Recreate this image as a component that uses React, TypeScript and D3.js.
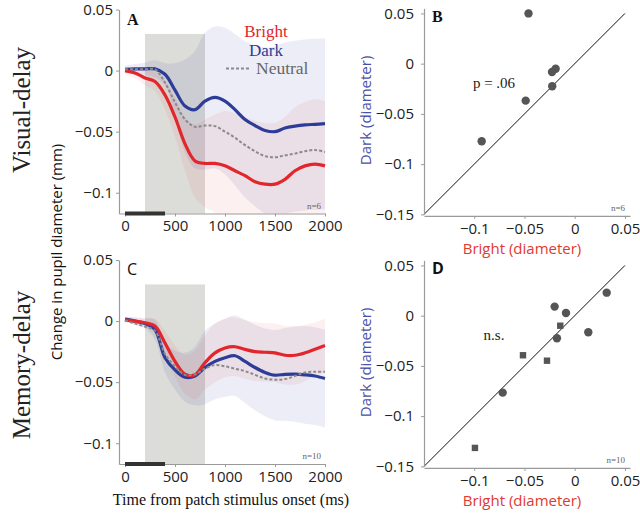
import React, { useEffect, useRef } from "react";
import * as d3 from "d3";

// ---------- data ----------
const timeMs = [0, 100, 200, 300, 400, 500, 600, 700, 800, 900, 1000, 1100, 1200, 1300, 1400, 1500, 1600, 1700, 1800, 1900, 2000];

// Panel A (visual-delay)
const brightA = [0.0, -0.002, -0.006, -0.009, -0.02, -0.038, -0.06, -0.074, -0.076, -0.076, -0.078, -0.082, -0.086, -0.091, -0.093, -0.093, -0.089, -0.082, -0.078, -0.0765, -0.078];
const darkA = [0.001, 0.0014, 0.0014, 0.0014, -0.003, -0.016, -0.029, -0.032, -0.025, -0.022, -0.025, -0.032, -0.04, -0.045, -0.049, -0.05, -0.047, -0.0455, -0.0445, -0.044, -0.0435];
const neutralA = [0.001, 0.001, 0.001, 0.001, -0.01, -0.026, -0.04, -0.046, -0.045, -0.0455, -0.05, -0.055, -0.061, -0.066, -0.07, -0.071, -0.0694, -0.068, -0.066, -0.065, -0.0667];
const brightBandA = [0.003, 0.004, 0.006, 0.008, 0.012, 0.016, 0.022, 0.03, 0.036, 0.04, 0.045, 0.047, 0.048, 0.05, 0.05, 0.05, 0.051, 0.052, 0.052, 0.053, 0.053];
const darkBandA = [0.003, 0.004, 0.005, 0.007, 0.009, 0.022, 0.038, 0.048, 0.056, 0.058, 0.06, 0.062, 0.064, 0.066, 0.068, 0.07, 0.07, 0.07, 0.07, 0.07, 0.07];

// Panel C (memory-delay)
const brightC = [0.001, 0.0, -0.0014, -0.004, -0.018, -0.033, -0.0435, -0.044, -0.034, -0.026, -0.022, -0.021, -0.0232, -0.025, -0.0255, -0.026, -0.028, -0.028, -0.026, -0.023, -0.02];
const darkC = [0.0016, 0.0, -0.002, -0.007, -0.03, -0.04, -0.046, -0.045, -0.038, -0.033, -0.03, -0.0284, -0.033, -0.038, -0.042, -0.0443, -0.0436, -0.0434, -0.044, -0.045, -0.047];
const neutralC = [0.0005, -0.002, -0.0045, -0.008, -0.027, -0.037, -0.044, -0.0435, -0.039, -0.036, -0.037, -0.039, -0.041, -0.044, -0.047, -0.048, -0.0475, -0.045, -0.042, -0.0415, -0.0415];
const brightBandC = [0.002, 0.003, 0.004, 0.006, 0.01, 0.013, 0.016, 0.02, 0.022, 0.024, 0.024, 0.024, 0.024, 0.024, 0.024, 0.024, 0.024, 0.024, 0.023, 0.022, 0.022];
const darkBandC = [0.002, 0.003, 0.004, 0.008, 0.012, 0.016, 0.02, 0.024, 0.03, 0.031, 0.032, 0.033, 0.034, 0.035, 0.036, 0.037, 0.038, 0.039, 0.04, 0.04, 0.04];

// Scatter B: [bright, dark]
const scatterBCircles: [number, number][] = [
  [-0.046, 0.05], [-0.019, -0.005], [-0.0226, -0.0083], [-0.0224, -0.0225], [-0.0488, -0.0368], [-0.0926, -0.0772],
];
// Scatter D
const scatterDCircles: [number, number][] = [
  [-0.02, 0.009], [-0.0087, 0.0027], [0.0318, 0.0229], [0.0135, -0.0165], [-0.0177, -0.0225], [-0.0717, -0.0766],
];
const scatterDSquares: [number, number][] = [
  [-0.0144, -0.01], [-0.0515, -0.0394], [-0.0276, -0.0448], [-0.0993, -0.1316],
];

const lineYTicks = [-0.1, -0.05, 0, 0.05];
const lineXTicks = [0, 500, 1000, 1500, 2000];
const scatYTicks = [-0.15, -0.1, -0.05, 0, 0.05];
const scatXTicks = [-0.1, -0.05, 0, 0.05];

const RED = "#e2262b";
const BLUE = "#2d3c98";
const GRAY = "#8a8a8a";
const LABEL_RED = "#e0392f";
const LABEL_BLUE = "#4a4fa8";
const SERIF = "'Liberation Serif', serif";
const SANS = "'Open Sans', 'DejaVu Sans', sans-serif";

const fmt = (d: number) => {
  if (d === 0) return "0";
  const s = d3.format("~g")(Math.abs(d));
  return (d < 0 ? "\u2212" : "") + s;
};

function styleAxis(g: any) {
  g.select(".domain").attr("stroke", "#9a9a9a").attr("stroke-width", 1.2);
  g.selectAll(".tick line").attr("stroke", "#9a9a9a");
  g.selectAll(".tick text").attr("fill", "#222").style("font-family", SANS).style("font-size", "15px");
}

function drawLinePanel(svg: any, top: number, id: string, bright: number[], dark: number[], neutral: number[], bBand: number[], dBand: number[], letter: string, letterFont: string, nText: string, legend: boolean) {
  const x = d3.scaleLinear().domain([-60, 2000]).range([119, 325]);
  const y = d3.scaleLinear().domain([-0.117, 0.05]).range([top + 204, top]);
  const g = svg.append("g");
  const clipId = "clip" + id;
  g.append("clipPath").attr("id", clipId).append("rect")
    .attr("x", x(-60)).attr("y", y(0.05)).attr("width", x(2000) - x(-60) + 2).attr("height", y(-0.117) - y(0.05));

  // stimulus window
  g.append("rect").attr("x", x(200)).attr("y", y(0.03)).attr("width", x(800) - x(200)).attr("height", y(-0.117) - y(0.03))
    .attr("fill", "#dcdcd9");

  const area = (vals: number[], hw: number[]) =>
    d3.area<number>().x((_, i) => x(timeMs[i])).y0((v, i) => y(v - hw[i])).y1((v, i) => y(v + hw[i])).curve(d3.curveCatmullRom)(vals);
  const line = (vals: number[]) => d3.line<number>().x((_, i) => x(timeMs[i])).y((v) => y(v)).curve(d3.curveCatmullRom)(vals);

  const bandG = g.append("g").attr("clip-path", `url(#${clipId})`);
  bandG.append("path").attr("d", area(dark, dBand)).attr("fill", BLUE).attr("fill-opacity", 0.09);
  bandG.append("path").attr("d", area(bright, bBand)).attr("fill", RED).attr("fill-opacity", 0.07);

  g.append("path").attr("d", line(dark)).attr("fill", "none").attr("stroke", BLUE).attr("stroke-width", 3.2);
  g.append("path").attr("d", line(bright)).attr("fill", "none").attr("stroke", RED).attr("stroke-width", 3.2);
  g.append("path").attr("d", line(neutral)).attr("fill", "none").attr("stroke", GRAY).attr("stroke-width", 2).attr("stroke-dasharray", "3,2");

  // axes
  const ya = g.append("g").attr("transform", `translate(${x(-60)},0)`)
    .call(d3.axisLeft(y).tickValues(lineYTicks).tickFormat(fmt as any).tickSize(3).tickPadding(3).tickSizeOuter(0));
  styleAxis(ya);
  const xa = g.append("g").attr("transform", `translate(0,${y(-0.117)})`)
    .call(d3.axisBottom(x).tickValues(lineXTicks).tickFormat(d3.format("d") as any).tickSize(3).tickPadding(4).tickSizeOuter(0));
  styleAxis(xa);

  // stimulus bar
  g.append("rect").attr("x", x(0)).attr("y", y(-0.117) - 2).attr("width", x(400) - x(0)).attr("height", 4).attr("fill", "#333");

  g.append("text").attr("x", 127).attr("y", top + 15).text(letter)
    .style("font-family", letterFont).style("font-weight", letter === "A" ? 700 : 400).style("font-size", "16px").attr("fill", "#111");
  g.append("text").attr("x", 321).attr("y", y(-0.117) - 5).attr("text-anchor", "end").text(nText)
    .style("font-family", SERIF).style("font-size", "9px").attr("fill", "#666");

  if (legend) {
    g.append("text").attr("x", 266).attr("y", top + 27.5).attr("text-anchor", "middle").text("Bright")
      .style("font-family", SERIF).style("font-size", "17px").attr("fill", RED);
    g.append("text").attr("x", 266).attr("y", top + 46).attr("text-anchor", "middle").text("Dark")
      .style("font-family", SERIF).style("font-size", "17px").attr("fill", BLUE);
    g.append("line").attr("x1", 226).attr("x2", 250).attr("y1", top + 59).attr("y2", top + 59)
      .attr("stroke", GRAY).attr("stroke-width", 2).attr("stroke-dasharray", "3,2");
    g.append("text").attr("x", 256).attr("y", top + 64.5).text("Neutral")
      .style("font-family", SERIF).style("font-size", "17.5px").attr("fill", "#666");
  }
}

function drawScatter(svg: any, top: number, circles: [number, number][], squares: [number, number][], letter: string, letterFont: string, stat: string, nText: string) {
  const x = d3.scaleLinear().domain([-0.15, 0.055]).range([424, 630]);
  const y = d3.scaleLinear().domain([-0.15, 0.055]).range([top + 206, top]);
  const g = svg.append("g");
  g.append("line").attr("x1", x(-0.15)).attr("y1", y(-0.15)).attr("x2", x(0.05)).attr("y2", y(0.05))
    .attr("stroke", "#111").attr("stroke-width", 1);

  const ya = g.append("g").attr("transform", `translate(${x(-0.15)},0)`)
    .call(d3.axisLeft(y).tickValues(scatYTicks).tickFormat(fmt as any).tickSize(3).tickPadding(7).tickSizeOuter(0));
  styleAxis(ya);
  const xa = g.append("g").attr("transform", `translate(0,${y(-0.15) + 1.5})`)
    .call(d3.axisBottom(x).tickValues(scatXTicks).tickFormat(fmt as any).tickSize(3).tickPadding(4).tickSizeOuter(0));
  styleAxis(xa);

  g.selectAll("circle.pt").data(circles).enter().append("circle")
    .attr("cx", (d: any) => x(d[0])).attr("cy", (d: any) => y(d[1])).attr("r", 4.2).attr("fill", "#555");
  g.selectAll("rect.pt").data(squares).enter().append("rect")
    .attr("x", (d: any) => x(d[0]) - 3.2).attr("y", (d: any) => y(d[1]) - 3.2).attr("width", 6.4).attr("height", 6.4).attr("fill", "#555");

  g.append("text").attr("x", 432).attr("y", top + 14).text(letter)
    .style("font-family", letterFont).style("font-weight", 700).style("font-size", "16px").attr("fill", "#111");
  g.append("text").attr("x", 494).attr("y", top + 80).attr("text-anchor", "middle").text(stat)
    .style("font-family", SERIF).style("font-size", "15px").attr("fill", "#222");
  g.append("text").attr("x", 625).attr("y", y(-0.15) - 3).attr("text-anchor", "end").text(nText)
    .style("font-family", SERIF).style("font-size", "9px").attr("fill", "#666");

  g.append("text").attr("x", 522).attr("y", top + 246).attr("text-anchor", "middle").text("Bright (diameter)")
    .style("font-family", SANS).style("font-size", "15px").attr("fill", LABEL_RED);
  g.append("text").attr("transform", `translate(371,${top + 102}) rotate(-90)`).attr("text-anchor", "middle").text("Dark (diameter)")
    .style("font-family", SANS).style("font-size", "15px").attr("fill", LABEL_BLUE);
}

export default function App() {
  const ref = useRef<SVGSVGElement>(null);
  useEffect(() => {
    const svg = d3.select(ref.current);
    svg.selectAll("*").remove();
    svg.append("rect").attr("width", 640).attr("height", 514).attr("fill", "#fff");

    drawLinePanel(svg, 9.5, "A", brightA, darkA, neutralA, brightBandA, darkBandA, "A", SERIF, "n=6", true);
    drawLinePanel(svg, 260, "C", brightC, darkC, neutralC, brightBandC, darkBandC, "C", SANS, "n=10", false);
    drawScatter(svg, 8.4, scatterBCircles, [], "B", SERIF, "p = .06", "n=6");
    drawScatter(svg, 260.4, scatterDCircles, scatterDSquares, "D", SANS, "n.s.", "n=10");

    svg.append("text").attr("x", 231).attr("y", 505).attr("text-anchor", "middle").text("Time from patch stimulus onset (ms)")
      .style("font-family", SERIF).style("font-size", "16px").attr("fill", "#111");
    svg.append("text").attr("transform", "translate(62,252) rotate(-90)").attr("text-anchor", "middle").text("Change in pupil diameter (mm)")
      .style("font-family", SANS).style("font-size", "15px").attr("fill", "#111");
    svg.append("text").attr("transform", "translate(30,110) rotate(-90)").attr("text-anchor", "middle").text("Visual-delay")
      .style("font-family", SERIF).style("font-size", "25px").attr("fill", "#222");
    svg.append("text").attr("transform", "translate(30,365) rotate(-90)").attr("text-anchor", "middle").text("Memory-delay")
      .style("font-family", SERIF).style("font-size", "25px").attr("fill", "#222");
  }, []);
  return (
    <svg ref={ref} width={640} height={514} style={{ position: "absolute", left: 0, top: 0, display: "block" }} />
  );
}
